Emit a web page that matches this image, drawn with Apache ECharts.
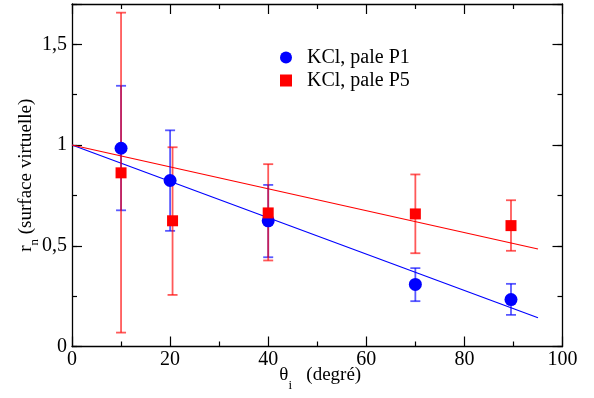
<!DOCTYPE html>
<html>
<head>
<meta charset="utf-8">
<script src="https://cdn.jsdelivr.net/npm/echarts@6/dist/echarts.min.js"></script>
<style>
  html, body { margin: 0; padding: 0; background: #fff; }
  #chart { width: 594px; height: 398px; }
</style>
</head>
<body>
<div id="chart"></div>
<script>
// ---- data ----
const seriesNames = ['KCl, pale P1', 'KCl, pale P5'];

const xP1 = [10, 20, 40, 70, 89.5];
const yP1 = [0.984, 0.824, 0.624, 0.308, 0.233];
const loP1 = [0.676, 0.574, 0.443, 0.225, 0.157];
const hiP1 = [1.294, 1.073, 0.802, 0.389, 0.311];

const xP5 = [10, 20.5, 40, 70, 89.5];
const yP5 = [0.862, 0.624, 0.663, 0.658, 0.600];
const loP5 = [0.069, 0.256, 0.427, 0.463, 0.475];
const hiP5 = [1.657, 0.989, 0.905, 0.854, 0.726];

const fitX = [0, 95];
const fitP1 = [1, 0.143];
const fitP5 = [1, 0.484];

const xTickValues = [0, 20, 40, 60, 80, 100];
const xTickLabels = ['0', '20', '40', '60', '80', '100'];
const yTickValues = [0, 0.5, 1, 1.5];
const yTickLabels = ['0', '0,5', '1', '1,5'];

// ---- styling ----
const FONT = "'Liberation Serif', 'Times New Roman', serif";
const BLUE = '#0000ff';
const RED = '#ff0000';

function labelFor(values, labels) {
  return function (v) {
    for (let i = 0; i < values.length; i++) {
      if (Math.abs(values[i] - v) < 1e-6) return '{t|' + labels[i] + '}';
    }
    return '';
  };
}

const tickRich = {
  t: { fontFamily: FONT, fontSize: 20, color: '#000', lineHeight: 20 }
};

function titleRich(subPad, leftPad) {
  return {
    a0: { fontFamily: FONT, fontSize: 19, color: '#000', lineHeight: 19, verticalAlign: 'top', padding: [0, 0, 0, leftPad] },
    a: { fontFamily: FONT, fontSize: 19, color: '#000', lineHeight: 19, verticalAlign: 'top' },
    b: { fontFamily: FONT, fontSize: 13, color: '#000', lineHeight: 13, padding: [subPad, 0, 0, 0], verticalAlign: 'top' }
  };
}

const axisLineStyle = { color: '#000', width: 1.3 };
const tickStyle = { color: '#000', width: 1.2 };

function xAxisDef(pos, withLabels) {
  const ax = {
    type: 'value', position: pos, min: 0, max: 100, interval: 20,
    axisLine: { show: true, onZero: false, lineStyle: axisLineStyle },
    axisTick: { show: true, inside: true, length: 10, lineStyle: tickStyle },
    minorTick: { show: true, splitNumber: 2, length: 5, lineStyle: tickStyle },
    splitLine: { show: false },
    minorSplitLine: { show: false },
    axisLabel: {
      show: withLabels, margin: 3, fontFamily: FONT, fontSize: 20, color: '#000',
      formatter: labelFor(xTickValues, xTickLabels), rich: tickRich
    }
  };
  if (withLabels) {
    ax.name = '{a0|θ}{b|i}{a|   (degré)}';
    ax.nameLocation = 'middle';
    ax.nameGap = 19;
    ax.nameMoveOverlap = false;
    ax.nameTextStyle = { rich: titleRich(14, 6), fontFamily: FONT };
  }
  return ax;
}

function yAxisDef(pos, major, withLabels) {
  const ax = {
    type: 'value', position: pos, min: 0, max: 1.7, interval: major ? 0.5 : 0.25,
    axisLine: { show: major, onZero: false, lineStyle: axisLineStyle },
    axisTick: { show: true, inside: true, length: major ? 10 : 5, lineStyle: tickStyle },
    splitLine: { show: false },
    axisLabel: {
      show: withLabels, margin: 5, fontFamily: FONT, fontSize: 20, color: '#000',
      formatter: labelFor(yTickValues, yTickLabels), rich: tickRich
    }
  };
  if (withLabels) {
    ax.name = '{a|r}{b|n}{a| (surface virtuelle)}';
    ax.nameLocation = 'middle';
    ax.nameGap = 36;
    ax.nameMoveOverlap = false;
    ax.nameTextStyle = { rich: titleRich(11, 0), fontFamily: FONT };
  }
  return ax;
}

function errorBarSeries(name, xs, los, his, color) {
  return {
    type: 'custom', name: name, xAxisIndex: 0, yAxisIndex: 0, z: 3, silent: true,
    data: xs.map((x, i) => [x, los[i], his[i]]),
    encode: { x: 0, y: [1, 2] },
    renderItem: function (params, api) {
      const x = api.value(0);
      const pLo = api.coord([x, api.value(1)]);
      const pHi = api.coord([x, api.value(2)]);
      const hw = 5;
      const style = { stroke: color, lineWidth: 1.8, opacity: 0.65 };
      return {
        type: 'group',
        children: [
          { type: 'line', shape: { x1: pLo[0], y1: pLo[1], x2: pHi[0], y2: pHi[1] }, style: style },
          { type: 'line', shape: { x1: pLo[0] - hw, y1: pLo[1], x2: pLo[0] + hw, y2: pLo[1] }, style: style },
          { type: 'line', shape: { x1: pHi[0] - hw, y1: pHi[1], x2: pHi[0] + hw, y2: pHi[1] }, style: style }
        ]
      };
    }
  };
}

function fitSeries(name, ys, color) {
  return {
    type: 'line', name: name, xAxisIndex: 0, yAxisIndex: 0, z: 2, silent: true,
    data: fitX.map((x, i) => [x, ys[i]]),
    symbol: 'none', showSymbol: false,
    lineStyle: { color: color, width: 1.2 },
    itemStyle: { color: color }
  };
}

const chart = echarts.init(document.getElementById('chart'), null, { renderer: 'canvas' });
chart.setOption({
  animation: false,
  backgroundColor: '#fff',
  textStyle: { fontFamily: FONT },
  grid: { left: 72, right: 31.5, top: 4, bottom: 51.5, containLabel: false, outerBoundsMode: 'none' },
  legend: {
    orient: 'vertical', left: 280, top: 47, padding: 0,
    itemWidth: 12, itemHeight: 12, itemGap: 2,
    data: [{ name: seriesNames[0], icon: 'circle' }, { name: seriesNames[1], icon: 'rect' }],
    textStyle: { fontFamily: FONT, fontSize: 20, color: '#000', lineHeight: 21, padding: [0, 0, 0, 10] },
    selectedMode: false
  },
  xAxis: [xAxisDef('bottom', true), xAxisDef('top', false)],
  yAxis: [
    yAxisDef('left', true, true),
    yAxisDef('left', false, false),
    yAxisDef('right', true, false),
    yAxisDef('right', false, false)
  ],
  series: [
    fitSeries('fitP1', fitP1, BLUE),
    fitSeries('fitP5', fitP5, RED),
    errorBarSeries('errP1', xP1, loP1, hiP1, BLUE),
    errorBarSeries('errP5', xP5, loP5, hiP5, RED),
    {
      type: 'scatter', name: seriesNames[0], xAxisIndex: 0, yAxisIndex: 0, z: 4,
      symbol: 'circle', symbolSize: 13,
      itemStyle: { color: BLUE, opacity: 1 },
      data: xP1.map((x, i) => [x, yP1[i]])
    },
    {
      type: 'scatter', name: seriesNames[1], xAxisIndex: 0, yAxisIndex: 0, z: 5,
      symbol: 'rect', symbolSize: 11,
      itemStyle: { color: RED, opacity: 1 },
      data: xP5.map((x, i) => [x, yP5[i]])
    }
  ]
});
</script>
</body>
</html>
